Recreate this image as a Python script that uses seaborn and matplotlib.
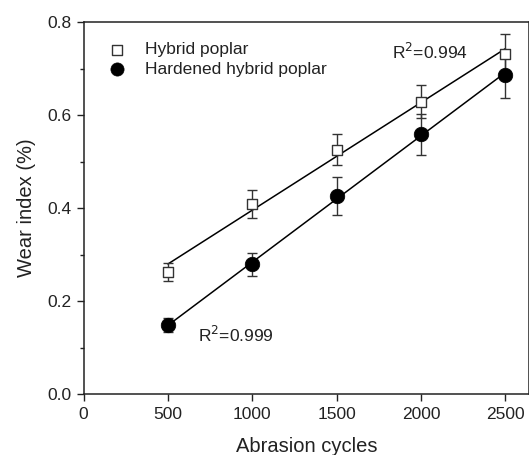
import numpy as np
import pandas as pd
import matplotlib
matplotlib.use("Agg")
import matplotlib.pyplot as plt
from matplotlib.ticker import MultipleLocator
import seaborn as sns

cycles = [500, 1000, 1500, 2000, 2500]
hybrid = [0.263, 0.408, 0.526, 0.629, 0.731]
hybrid_err = [0.019, 0.030, 0.033, 0.036, 0.044]
hardened = [0.148, 0.279, 0.426, 0.559, 0.687]
hardened_err = [0.015, 0.024, 0.041, 0.044, 0.051]
labels = ["Hybrid poplar", "Hardened hybrid poplar"]
r2_labels = ["R$^2$=0.994", "R$^2$=0.999"]

sns.set_theme(style="ticks")
plt.rcParams['font.family'] = ['Liberation Sans', 'DejaVu Sans']

fig = plt.figure(figsize=(5.29, 4.55), dpi=100)
ax = fig.add_axes([0.158, 0.1334, 0.842, 0.8182])

df_h = pd.DataFrame({"x": cycles, "y": hybrid})
df_d = pd.DataFrame({"x": cycles, "y": hardened})

sns.regplot(data=df_h, x="x", y="y", ci=None, scatter=False, ax=ax,
            line_kws=dict(color="black", lw=1.1))
sns.regplot(data=df_d, x="x", y="y", ci=None, scatter=False, ax=ax,
            line_kws=dict(color="black", lw=1.1))

ax.errorbar(cycles, hybrid, yerr=hybrid_err, fmt="none", ecolor="#333333",
            elinewidth=1.0, capsize=3.5, capthick=1.0, zorder=3)
ax.errorbar(cycles, hardened, yerr=hardened_err, fmt="none", ecolor="#333333",
            elinewidth=1.0, capsize=3.5, capthick=1.0, zorder=3)

sns.scatterplot(data=df_h, x="x", y="y", marker="s", s=60, facecolor="white",
                edgecolor="#333333", linewidth=1.0, ax=ax, zorder=4, label=labels[0])
sns.scatterplot(data=df_d, x="x", y="y", marker="o", s=110, color="black",
                edgecolor="black", linewidth=0.5, ax=ax, zorder=4, label=labels[1])

ax.text(1826, 0.7355, r2_labels[0], fontsize=12.5, va="center", ha="left", color="#222222")
ax.text(680, 0.128, r2_labels[1], fontsize=12.5, va="center", ha="left", color="#222222")

ax.set_xlim(0, 2640)
ax.set_ylim(0, 0.8)
ax.set_xticks([0, 500, 1000, 1500, 2000, 2500])
ax.set_yticks([0.0, 0.2, 0.4, 0.6, 0.8])
ax.yaxis.set_major_formatter(matplotlib.ticker.FormatStrFormatter("%.1f"))
ax.yaxis.set_minor_locator(MultipleLocator(0.1))
ax.tick_params(axis="both", which="major", direction="out", length=5, width=1,
               labelsize=12.5, color="#222222", labelcolor="#222222", pad=4)
ax.tick_params(axis="y", which="minor", direction="out", length=3, width=1, color="#222222")
for sp in ax.spines.values():
    sp.set_visible(True)
    sp.set_linewidth(1.1)
    sp.set_color("#222222")

ax.set_xlabel("Abrasion cycles", fontsize=14.5, color="#222222", labelpad=11)
ax.set_ylabel("Wear index (%)", fontsize=14.5, color="#222222", labelpad=8)

leg = ax.legend(loc="upper left", bbox_to_anchor=(0.02, 0.965), frameon=False,
                fontsize=12.5, handletextpad=0.6, labelspacing=0.25, borderaxespad=0)
handles = leg.legend_handles
handles[0].set_sizes([42])
handles[1].set_sizes([90])
for t in leg.get_texts():
    t.set_color("#222222")

fig.savefig("out.png", dpi=100)
